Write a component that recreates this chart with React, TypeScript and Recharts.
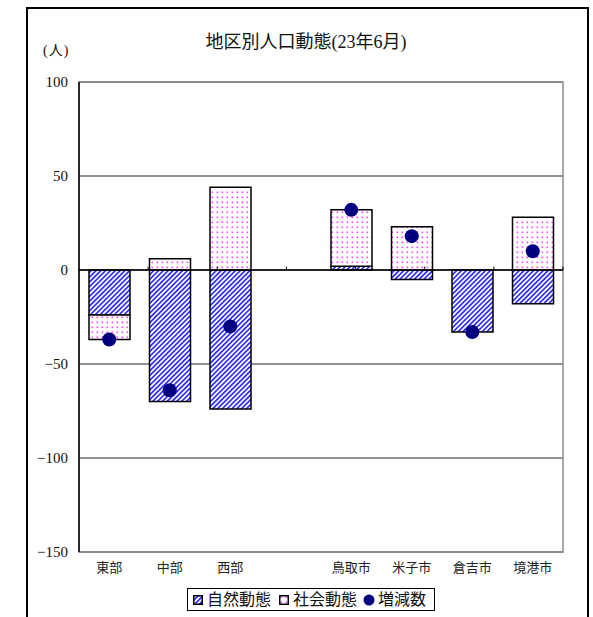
import React from "react";
import {
  ComposedChart,
  Bar,
  Line,
  XAxis,
  YAxis,
  CartesianGrid,
  ReferenceLine,
  ReferenceArea,
} from "recharts";

const categories = ["東部", "中部", "西部", "", "鳥取市", "米子市", "倉吉市", "境港市"];
const naturalChange = [-24, -70, -74, null, 2, -5, -33, -18];
const socialChange = [-13, 6, 44, null, 30, 23, 0, 28];
const netChange = [-37, -64, -30, null, 32, 18, -33, 10];
const yTicks = [-150, -100, -50, 0, 50, 100];
const categoryBoundaries = [1, 2, 3, 4, 5, 6, 7];

const data = categories.map((name, i) => ({
  name,
  natural: naturalChange[i],
  social: socialChange[i],
  net: netChange[i],
}));

const SERIF = "'Liberation Serif', 'Times New Roman', 'Noto Sans CJK JP', serif";
const JP = "'Liberation Serif', 'Times New Roman', 'Noto Sans CJK JP', sans-serif";
const NAVY = "#000080";

const fmt = (v: number) => (v < 0 ? `\u2212${Math.abs(v)}` : `${v}`);

function Patterns() {
  return (
    <svg width={0} height={0} style={{ position: "absolute" }}>
      <defs>
        <pattern
          id="hatchBlue"
          width={3.4}
          height={3.4}
          patternUnits="userSpaceOnUse"
          patternTransform="rotate(45)"
        >
          <rect width={3.4} height={3.4} fill="#ffffff" />
          <rect width={1.7} height={3.4} fill="#3030ff" />
        </pattern>
        <pattern id="dotsPink" width={5} height={5} patternUnits="userSpaceOnUse">
          <rect width={5} height={5} fill="#ffffff" />
          <rect x={1.5} y={1.5} width={1.6} height={1.6} fill="#ff44ff" />
        </pattern>
      </defs>
    </svg>
  );
}

export default function App() {
  return (
    <div
      style={{
        position: "absolute",
        left: 0,
        top: 0,
        width: 593,
        height: 617,
        overflow: "hidden",
        background: "#fff",
      }}
    >
      <Patterns />
      <div
        style={{
          position: "absolute",
          left: 26,
          top: 7,
          width: 559,
          height: 700,
          border: "2px solid #000",
        }}
      />
      <div
        style={{
          position: "absolute",
          left: 0,
          width: 612,
          top: 27,
          textAlign: "center",
          fontFamily: JP,
          fontSize: 18,
          color: "#111",
        }}
      >
        地区別人口動態(23年6月)
      </div>
      <div
        style={{
          position: "absolute",
          left: 43,
          top: 39,
          fontFamily: JP,
          fontSize: 14,
          letterSpacing: 1,
          color: "#111",
        }}
      >
        (人)
      </div>

      <div style={{ position: "absolute", left: 0, top: 0 }}>
        <ComposedChart
          width={593}
          height={617}
          data={data}
          stackOffset="sign"
          margin={{ top: 82, right: 30, bottom: 35, left: 29 }}
        >
          <CartesianGrid vertical={false} stroke="#222" />
          <XAxis
            dataKey="name"
            height={30}
            axisLine={false}
            tickLine={false}
            tickSize={0}
            tickMargin={11}
            interval={0}
            tick={{ fontSize: 13, fill: "#222", fontFamily: JP }}
          />
          <XAxis xAxisId="b" type="number" domain={[0, 8]} hide />
          <YAxis
            width={50}
            domain={[-150, 100]}
            ticks={yTicks}
            interval={0}
            tickFormatter={fmt}
            axisLine={{ stroke: "#000", strokeWidth: 1.5 }}
            tickLine={false}
            tickSize={4}
            tickMargin={7}
            tick={{ fontSize: 15, fill: "#111", fontFamily: SERIF }}
          />
          <ReferenceArea y1={-150} y2={100} fill="none" stroke="#8c8c8c" strokeWidth={1.5} />
          <Bar
            dataKey="natural"
            stackId="a"
            barSize={41}
            fill="url(#hatchBlue)"
            stroke="#000"
            strokeWidth={1.5}
            isAnimationActive={false}
          />
          <Bar
            dataKey="social"
            stackId="a"
            barSize={41}
            fill="url(#dotsPink)"
            stroke="#000"
            strokeWidth={1.5}
            isAnimationActive={false}
          />
          <ReferenceLine y={0} stroke="#000" strokeWidth={1.5} />
          {categoryBoundaries.map((b) => (
            <ReferenceLine
              key={b}
              xAxisId="b"
              segment={[
                { x: b, y: 0 },
                { x: b, y: 1.8 },
              ]}
              stroke="#000"
              strokeWidth={1}
            />
          ))}
          <Line
            dataKey="net"
            stroke="none"
            dot={{ r: 7, fill: NAVY, stroke: "none" }}
            activeDot={false}
            isAnimationActive={false}
          />
        </ComposedChart>
      </div>

      <div
        style={{
          position: "absolute",
          left: 187,
          top: 588,
          width: 246,
          height: 21,
          border: "1px solid #000",
          display: "flex",
          alignItems: "center",
          fontFamily: JP,
          fontSize: 16,
          color: "#111",
          whiteSpace: "nowrap",
          lineHeight: "21px",
        }}
      >
        <svg width={10} height={10} style={{ marginLeft: 5, marginRight: 4 }}>
          <rect x={0.75} y={0.75} width={8.5} height={8.5} fill="url(#hatchBlue)" stroke="#000" strokeWidth={1.5} />
        </svg>
        <span>自然動態</span>
        <svg width={10} height={10} style={{ marginLeft: 8, marginRight: 4 }}>
          <rect x={0.75} y={0.75} width={8.5} height={8.5} fill="url(#dotsPink)" stroke="#000" strokeWidth={1.5} />
        </svg>
        <span>社会動態</span>
        <svg width={12} height={12} style={{ marginLeft: 6, marginRight: 3 }}>
          <circle cx={6} cy={6} r={5.5} fill={NAVY} />
        </svg>
        <span>増減数</span>
      </div>
    </div>
  );
}
